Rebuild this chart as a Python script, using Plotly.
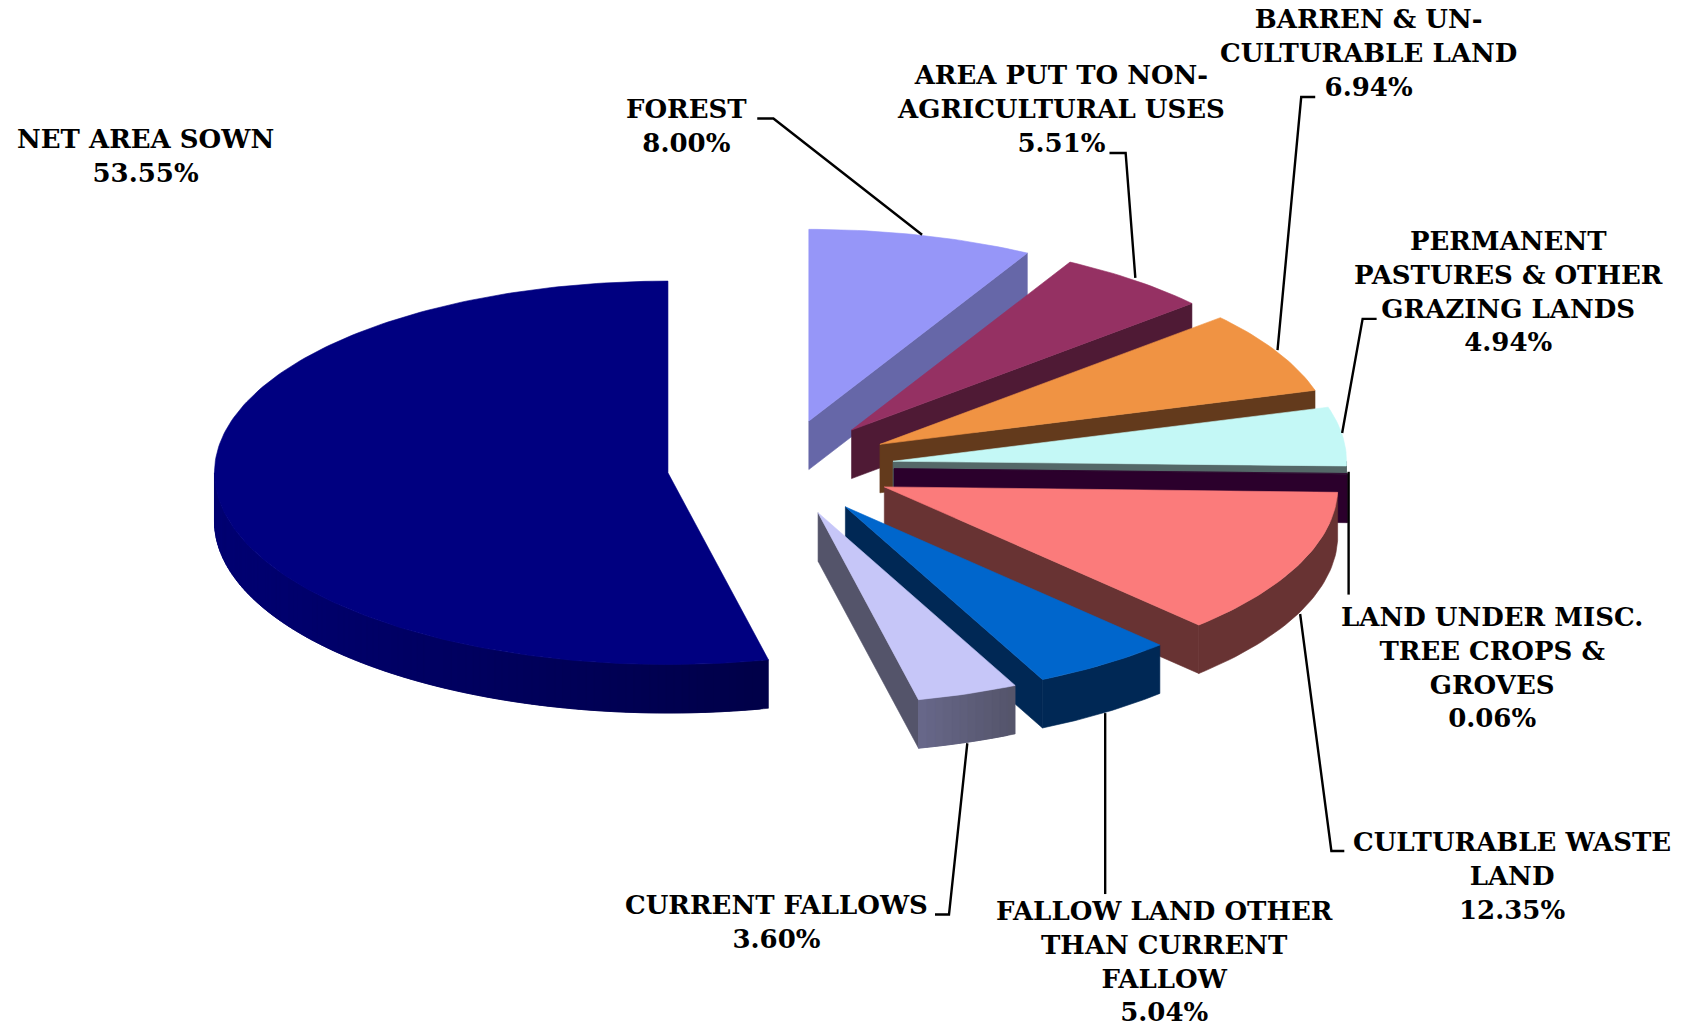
import numpy as np
import plotly.graph_objects as go

# ---- data, in the order the slices run clockwise from twelve o'clock
categories = ["FOREST", "AREA PUT TO NON-AGRICULTURAL USES", "BARREN & UN-CULTURABLE LAND",
              "PERMANENT PASTURES & OTHER GRAZING LANDS", "LAND UNDER MISC. TREE CROPS & GROVES",
              "CULTURABLE WASTE LAND", "FALLOW LAND OTHER THAN CURRENT FALLOW",
              "CURRENT FALLOWS", "NET AREA SOWN"]
values = [8.00, 5.51, 6.94, 4.94, 0.06, 12.35, 5.04, 3.60, 53.55]
label_lines = [["FOREST"],
               ["AREA PUT TO NON-", "AGRICULTURAL USES"],
               ["BARREN & UN-", "CULTURABLE LAND"],
               ["PERMANENT", "PASTURES & OTHER", "GRAZING LANDS"],
               ["LAND UNDER MISC.", "TREE CROPS &", "GROVES"],
               ["CULTURABLE WASTE", "LAND"],
               ["FALLOW LAND OTHER", "THAN CURRENT", "FALLOW"],
               ["CURRENT FALLOWS"],
               ["NET AREA SOWN"]]
top_colors = ["#9696F8", "#953163", "#F09343", "#C4F8F6", "#2B002C", "#FB7B7B", "#0066CC", "#C6C6F8", "#000080"]
wall_colors = ["#6667A8", "#4F1A35", "#633A1C", "#546868", "#2B002C", "#683333", "#002855", "#54546A", "#000055"]
rim_left = ["#6667A8", "#4F1A35", "#633A1C", "#546868", "#2B002C", "#683333", "#002855", "#68688A", "#000072"]
rim_right = ["#6667A8", "#4F1A35", "#633A1C", "#546868", "#2B002C", "#683333", "#002855", "#54546A", "#000048"]

# ---- layout and geometry
W, H = 1689, 1027
S = W / 1568
CX, CY = 724.7 * S, 434 * S
RX, RY = 421 * S, 178 * S
DEPTH = 45 * S
PULL = 0.25
FONT = dict(family="DejaVu Serif", size=26, color="#000000", weight="bold")
# centre of each label block
label_pos = [(637, 117), (985, 101), (1270, 49), (1400, 271), (1385, 620),
             (1404, 813), (1081, 893), (721, 856), (135, 145)]
leaders = [[(703, 110), (718, 110), (856, 218)],
           [(1030, 142), (1045, 142), (1054, 258)],
           [(1221, 90), (1208, 90), (1186, 325)],
           [(1278, 296), (1265, 296), (1246, 402)],
           [(1252, 438), (1252, 552)],
           [(1248, 790), (1236, 790), (1207, 570)],
           [(1026, 662), (1026, 830)],
           [(868, 849), (881, 849), (898, 690)]]


def hex_rgb(c):
    return np.array([int(c[i:i + 2], 16) for i in (1, 3, 5)], float)


def mix(a, b, t):
    r = hex_rgb(a) * (1 - t) + hex_rgb(b) * t
    return "rgb(%d,%d,%d)" % tuple(r.round())


def ell(theta):
    t = np.radians(theta)
    return RX * np.sin(t), -RY * np.cos(t)


fig = go.Figure()


def poly(xs, ys, color):
    fig.add_trace(go.Scatter(x=list(xs), y=list(ys), mode="lines", fill="toself", fillcolor=color,
                             line=dict(color=color, width=0.6), hoverinfo="skip", showlegend=False))


def slice_marks(i, a0, a1):
    mid = (a0 + a1) / 2
    ox, oy = ell(mid)
    ax, ay = CX + PULL * ox, CY + PULL * oy
    ex, ey = ell(a1)
    # cut face at the clockwise end of the slice
    if 0 < a1 < 180:
        poly([ax, ax + ex, ax + ex, ax, ax], [ay, ay + ey, ay + ey + DEPTH, ay + DEPTH, ay], wall_colors[i])
    # outer rim, the part turned towards the viewer
    r0, r1 = max(a0, 90), min(a1, 270)
    if r1 > r0:
        n = max(int((r1 - r0)), 2) if rim_left[i] != rim_right[i] else 1
        edges = np.linspace(r0, r1, n + 1)
        xl, xr = ell(r0)[0], ell(r1)[0]
        for k in range(n):
            arc = np.linspace(edges[k], edges[min(k + 2, n)], 40 if n == 1 else 5)
            px, py = ell(arc)
            t = (xl - ell((edges[k] + edges[k + 1]) / 2)[0]) / (xl - xr) if xl != xr else 0
            poly(ax + np.r_[px, px[::-1], px[0]], ay + np.r_[py, py[::-1] + DEPTH, py[0]],
                 mix(rim_right[i], rim_left[i], t))
    # top face
    arc = np.linspace(a0, a1, max(int(a1 - a0), 2) + 1)
    px, py = ell(arc)
    poly(ax + np.r_[0, px, 0], ay + np.r_[0, py, 0], top_colors[i])


edges = np.r_[0, np.cumsum(values)] / sum(values) * 360
slice_marks(8, edges[8], edges[9])
for i in range(8):
    slice_marks(i, edges[i], edges[i + 1])

for pts in leaders:
    fig.add_trace(go.Scatter(x=[p[0] * S for p in pts], y=[p[1] * S for p in pts], mode="lines",
                             line=dict(color="#000000", width=2.4), hoverinfo="skip", showlegend=False))

for lines, v, (x, y) in zip(label_lines, values, label_pos):
    fig.add_annotation(x=x * S, y=y * S, text="<br>".join(lines + ["%.2f%%" % v]), showarrow=False,
                       xanchor="center", yanchor="middle", align="center", font=FONT)

fig.update_layout(width=W, height=H, margin=dict(l=0, r=0, t=0, b=0), paper_bgcolor="#FFFFFF",
                  plot_bgcolor="#FFFFFF", showlegend=False,
                  xaxis=dict(range=[0, W], visible=False),
                  yaxis=dict(range=[H, 0], visible=False))
fig.write_html("out.html", post_script="document.body.style.margin='0';",
               config=dict(displayModeBar=False))
